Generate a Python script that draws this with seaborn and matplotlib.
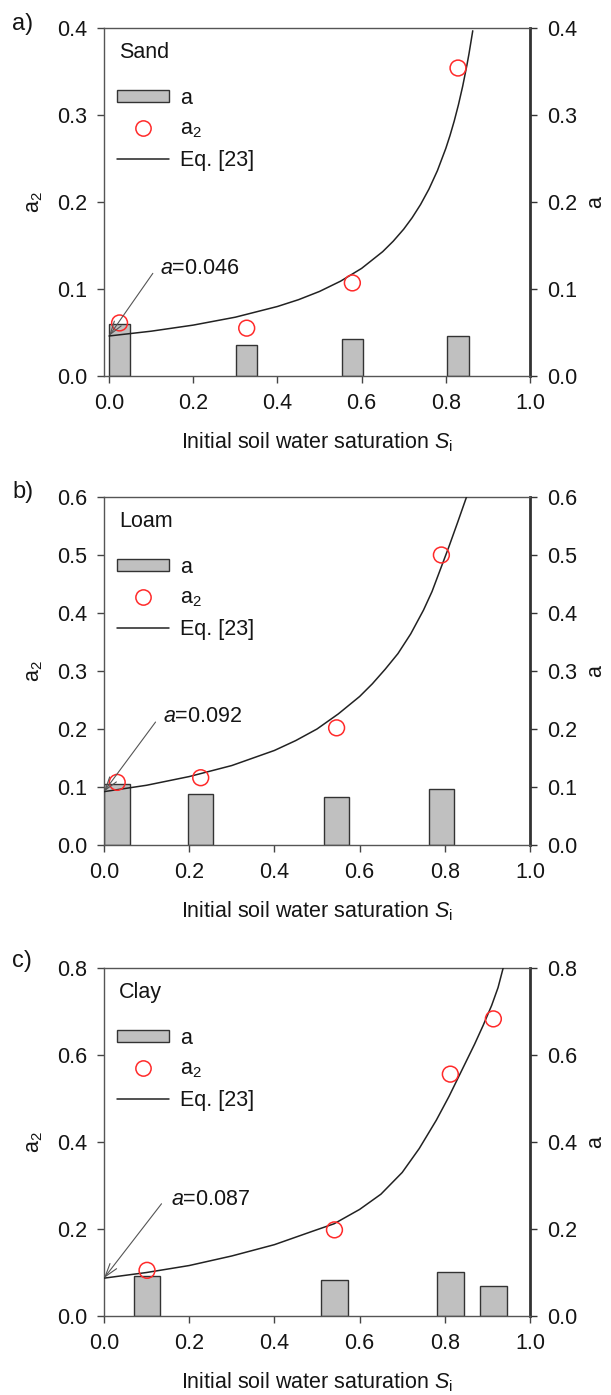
import numpy as np
import pandas as pd
import matplotlib
matplotlib.use("Agg")
import matplotlib.pyplot as plt
from matplotlib.patches import Patch
from matplotlib.lines import Line2D
import seaborn as sns

sns.set_theme(style="ticks")
plt.rcParams["font.family"] = ["Liberation Sans", "DejaVu Sans"]
plt.rcParams["mathtext.fontset"] = "custom"
plt.rcParams["mathtext.rm"] = "Liberation Sans"
plt.rcParams["mathtext.it"] = "Liberation Sans:italic"
plt.rcParams["text.color"] = "#151515"
plt.rcParams["axes.labelcolor"] = "#151515"

# ---- Sand ----
sand_si = [0.025, 0.327, 0.578, 0.829]
sand_a = [0.060, 0.036, 0.042, 0.046]
sand_a2 = [0.061, 0.055, 0.107, 0.354]
sand_curve_si = [0.0, 0.1, 0.2, 0.3, 0.4, 0.45, 0.5, 0.55, 0.6, 0.65, 0.675,
                 0.7, 0.72, 0.74, 0.76, 0.78, 0.8, 0.81, 0.82, 0.83, 0.84,
                 0.85, 0.855, 0.864]
sand_curve_a2 = [0.046, 0.0515, 0.0585, 0.0676, 0.0799, 0.0877, 0.0972,
                 0.1090, 0.1237, 0.1429, 0.1549, 0.1688, 0.1819, 0.1971,
                 0.2149, 0.2360, 0.2616, 0.2765, 0.2931, 0.3118, 0.3329,
                 0.3570, 0.3702, 0.3968]
sand_a0 = 0.046

# ---- Loam ----
loam_si = [0.031, 0.227, 0.546, 0.792]
loam_a = [0.105, 0.088, 0.082, 0.096]
loam_a2 = [0.108, 0.116, 0.202, 0.500]
loam_curve_si = [0.0, 0.1, 0.2, 0.3, 0.4, 0.45, 0.5, 0.55, 0.6, 0.63, 0.66,
                 0.69, 0.72, 0.75, 0.77, 0.79, 0.81, 0.83, 0.851]
loam_curve_a2 = [0.092, 0.103, 0.118, 0.137, 0.163, 0.180, 0.200, 0.226,
                 0.256, 0.278, 0.303, 0.330, 0.364, 0.405, 0.437, 0.476,
                 0.515, 0.556, 0.600]
loam_a0 = 0.092

# ---- Clay ----
clay_si = [0.101, 0.541, 0.813, 0.914]
clay_a = [0.093, 0.082, 0.102, 0.070]
clay_a2 = [0.105, 0.198, 0.556, 0.683]
clay_curve_si = [0.0, 0.1, 0.2, 0.3, 0.4, 0.49, 0.54, 0.6, 0.65, 0.7, 0.74,
                 0.78, 0.81, 0.84, 0.87, 0.89, 0.91, 0.925, 0.937]
clay_curve_a2 = [0.087, 0.100, 0.116, 0.138, 0.164, 0.195, 0.212, 0.245,
                 0.280, 0.330, 0.385, 0.450, 0.505, 0.565, 0.625, 0.668,
                 0.714, 0.755, 0.800]
clay_a0 = 0.087

panels = [
    dict(tag="a)", soil="Sand", si=sand_si, a=sand_a, a2=sand_a2,
         csi=sand_curve_si, ca2=sand_curve_a2, a0=sand_a0, bar_w=0.05,
         ymax=0.4, ystep=0.1, xmin=-0.012,
         txt=(0.122, 0.124), arr=(0.104, 0.118)),
    dict(tag="b)", soil="Loam", si=loam_si, a=loam_a, a2=loam_a2,
         csi=loam_curve_si, ca2=loam_curve_a2, a0=loam_a0, bar_w=0.06,
         ymax=0.6, ystep=0.1, xmin=0.0,
         txt=(0.139, 0.221), arr=(0.121, 0.212)),
    dict(tag="c)", soil="Clay", si=clay_si, a=clay_a, a2=clay_a2,
         csi=clay_curve_si, ca2=clay_curve_a2, a0=clay_a0, bar_w=0.062,
         ymax=0.8, ystep=0.2, xmin=0.0,
         txt=(0.157, 0.267), arr=(0.135, 0.258)),
]

W, H = 611, 1395
fig = plt.figure(figsize=(W / 100, H / 100), dpi=100)

ax_left, ax_w, ax_h = 104 / W, 426 / W, 348 / H
tops = [28, 497, 968]
tag_y = [24, 492, 961]

FS = 15.5
bar_fc = "#c0c0c0"
edge = "#333333"
red = "#ff2a2a"

for p, top, ty in zip(panels, tops, tag_y):
    ax = fig.add_axes([ax_left, 1 - (top + 348) / H, ax_w, ax_h])

    bars = pd.DataFrame({"si": p["si"], "a": p["a"]})
    rel_w = p["bar_w"] / np.min(np.diff(sorted(p["si"])))
    sns.barplot(data=bars, x="si", y="a", native_scale=True, width=rel_w,
                color=bar_fc, saturation=1, edgecolor=edge, linewidth=1.0,
                errorbar=None, ax=ax, zorder=2)

    curve = pd.DataFrame({"si": p["csi"], "a2": p["ca2"]})
    sns.lineplot(data=curve, x="si", y="a2", color="#222222", linewidth=1.1,
                 estimator=None, sort=True, ax=ax, zorder=3)

    pts = pd.DataFrame({"si": p["si"], "a2": p["a2"]})
    sns.scatterplot(data=pts, x="si", y="a2", marker="o", s=130,
                    facecolor="none", edgecolor=red, linewidth=1.1,
                    ax=ax, zorder=4)

    ax.set_xlim(p["xmin"], 1.0)
    ax.set_ylim(0, p["ymax"])
    ax.set_xticks(np.arange(0, 1.01, 0.2))
    yt = np.arange(0, p["ymax"] + 1e-9, p["ystep"])
    ax.set_yticks(yt)
    ax.xaxis.set_major_formatter(matplotlib.ticker.FormatStrFormatter("%.1f"))
    ax.yaxis.set_major_formatter(matplotlib.ticker.FormatStrFormatter("%.1f"))
    ax.tick_params(axis="both", direction="out", length=5, width=1,
                   color="#444444", labelsize=FS, pad=7, labelcolor="#151515")
    for side in ["left", "bottom", "top"]:
        ax.spines[side].set_color("#555555")
        ax.spines[side].set_linewidth(1.0)
    ax.spines["right"].set_visible(False)

    sec = ax.secondary_yaxis("right")
    sec.set_yticks(yt)
    sec.yaxis.set_major_formatter(matplotlib.ticker.FormatStrFormatter("%.1f"))
    sec.tick_params(axis="y", direction="out", length=5, width=1,
                    color="#333333", labelsize=FS, pad=7, labelcolor="#151515")
    sec.spines["right"].set_linewidth(2.0)
    sec.spines["right"].set_color("#333333")
    sec.set_ylabel("a", fontsize=FS, labelpad=6, rotation=90)

    ax.set_xlabel(r"Initial soil water saturation $S_\mathrm{i}$",
                  fontsize=FS, labelpad=12)
    ax.set_ylabel(r"a$_2$", fontsize=FS, labelpad=9)

    ax.text(0.035, 0.93, p["soil"], transform=ax.transAxes, fontsize=FS,
            ha="left", va="center")

    handles = [
        Patch(facecolor=bar_fc, edgecolor=edge, linewidth=1.0),
        Line2D([], [], marker="o", linestyle="none", markersize=11,
               markerfacecolor="none", markeredgecolor=red,
               markeredgewidth=1.1),
        Line2D([], [], color="#222222", linewidth=1.1),
    ]
    ax.legend(handles, ["a", r"a$_2$", "Eq. [23]"], loc="upper left",
              bbox_to_anchor=(0.031, 0.828), frameon=False, fontsize=FS,
              handlelength=2.4, handleheight=0.5, handletextpad=0.5,
              labelspacing=0.45, borderpad=0, borderaxespad=0)

    ax.annotate("", xy=(0.0, p["a0"]), xytext=p["arr"],
                arrowprops=dict(arrowstyle="->,head_length=0.8,head_width=0.25",
                                color="#555555", lw=0.8, shrinkA=0, shrinkB=0),
                zorder=5)
    ax.text(p["txt"][0], p["txt"][1], r"$a$=%.3f" % p["a0"], fontsize=FS,
            ha="left", va="center")

    fig.text(12 / W, 1 - ty / H, p["tag"], fontsize=17, ha="left",
             va="center")

fig.savefig("out.png", dpi=100)
